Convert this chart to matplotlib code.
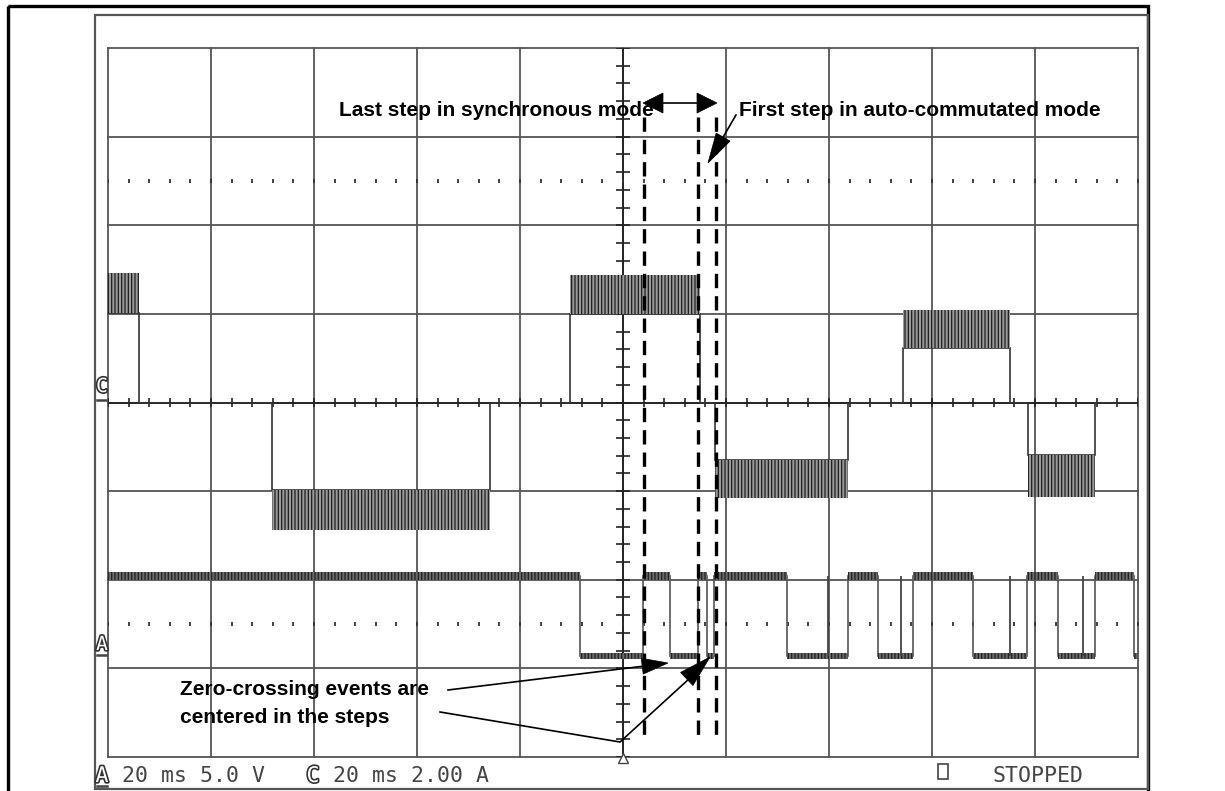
import numpy as np
import matplotlib
matplotlib.use("Agg")
import matplotlib.pyplot as plt
from matplotlib.patches import Polygon, Rectangle
import matplotlib.patheffects as pe

plt.rcParams['hatch.linewidth'] = 0.9

# ---------------- data (screen divisions: x 0..10, y 0..8) ----------------
# Channel C (phase current, 2.00 A/div, ground at 4 div)
c_edges = [0.0, 0.30, 1.59, 3.71, 4.49, 5.75, 5.89, 7.18, 7.72, 8.76, 8.93, 9.58, 10.0]
c_inner = [5.01, 4.0, 3.01, 4.0, 5.00, 4.0, 3.35, 4.0, 4.61, 4.0, 3.41, 4.0]
c_outer = [5.46, 4.0, 2.56, 4.0, 5.44, 4.0, 2.92, 4.0, 5.04, 4.0, 2.93, 4.0]

# Channel A (BEMF comparator output, 5.0 V/div, ground at 1 div)
a_edges = [0.0, 4.583, 5.194, 5.456, 5.728, 5.816, 5.883, 6.592, 7.184, 7.476,
           7.816, 8.398, 8.922, 9.223, 9.583, 9.961, 10.0]
a_state = [1, 0, 1, 0, 1, 0, 1, 0, 1, 0, 1, 0, 1, 0, 1, 0]
a_high, a_low = 2.04, 1.14
a_high_band = (2.00, 2.09)
a_low_band = (1.11, 1.17)
a_spikes = [6.990, 7.699, 8.757, 9.466]

# dashed markers (step boundaries)
dash_x = [5.204, 5.728, 5.903]

# status line texts
status_a = "20 ms 5.0 V"
status_c = "20 ms 2.00 A"
status_run = "STOPPED"

# ---------------- figure ----------------
W, H = 1225, 791
fig = plt.figure(figsize=(W / 100, H / 100), dpi=100)
fig.patch.set_facecolor("white")

GX0, GX1, GY0, GY1 = 108, 1138, 48, 757
ax = fig.add_axes([GX0 / W, 1 - GY1 / H, (GX1 - GX0) / W, (GY1 - GY0) / H])
ax.set_xlim(0, 10)
ax.set_ylim(0, 8)
ax.axis("off")

ov = fig.add_axes([0, 0, 1, 1], zorder=5)
ov.set_xlim(0, W)
ov.set_ylim(H, 0)
ov.axis("off")

# graticule
for i in range(11):
    ax.axvline(i, color="#555555", lw=1.3, clip_on=False, zorder=1)
for j in range(9):
    ax.axhline(j, color="#555555", lw=1.3, clip_on=False, zorder=1)
ax.axvline(5, color="#222222", lw=1.3, zorder=1.1)
ax.axhline(4, color="#222222", lw=1.3, zorder=1.1)
minor = np.arange(0, 10.001, 0.2)
ax.vlines(minor, 4 - 0.056, 4 + 0.056, color="#222222", lw=1.2, zorder=1.1)
minor_y = np.arange(0, 8.001, 0.2)
ax.hlines(minor_y, 5 - 0.068, 5 + 0.068, color="#222222", lw=1.2, zorder=1.1)
# dotted reference rows
ax.plot(minor, np.full_like(minor, 6.5), ls="none", marker="|", ms=3, mew=1.3,
        color="#333333", zorder=1.2)
ax.plot(minor, np.full_like(minor, 1.5), ls="none", marker="|", ms=3, mew=1.3,
        color="#333333", zorder=1.2)
ax.plot([5], [-0.015], marker="^", ms=7, mfc="white", mec="#444444", mew=1.0,
        clip_on=False, zorder=3)

# channel C
ax.stairs(c_inner, c_edges, baseline=None, color="#333333", lw=1.2, zorder=2)
for k in range(len(c_inner)):
    if c_inner[k] != c_outer[k]:
        ax.fill_between([c_edges[k], c_edges[k + 1]], c_inner[k], c_outer[k],
                        facecolor="#9a9a9a", edgecolor="#1e1e1e", hatch="|||||",
                        lw=0, zorder=2)

# channel A
a_vals = [a_high if s else a_low for s in a_state]
ax.stairs(a_vals, a_edges, baseline=None, color="#555555", lw=1.2, zorder=2)
for k, s in enumerate(a_state):
    lo, hi = a_high_band if s else a_low_band
    ax.fill_between([a_edges[k], a_edges[k + 1]], lo, hi, facecolor="#6a6a6a",
                    edgecolor="#222222", hatch="|||||", lw=0, zorder=2)
ax.vlines(a_spikes, a_low, a_high, color="#444444", lw=1.3, zorder=2)

# dashed lines
for x in dash_x:
    ax.plot([x, x], [7.22, 0.17], color="black", lw=2.4, dashes=(4.3, 2.4),
            zorder=4, solid_capstyle="butt")

# ---------------- overlay: frames, annotations, status ----------------
ov.add_patch(Rectangle((8, 6), 1140, 800, fill=False, ec="black", lw=2.4))
ov.add_patch(Rectangle((95, 15), 1053, 774, fill=False, ec="#555555", lw=1.6))


def arrow_head(tip, frm, length, half):
    tip = np.asarray(tip, float)
    frm = np.asarray(frm, float)
    d = tip - frm
    d /= np.hypot(*d)
    n = np.array([-d[1], d[0]])
    base = tip - d * length
    ov.add_patch(Polygon([tip, base + n * half, base - n * half], closed=True,
                         fc="black", ec="black", lw=0.5, zorder=6))


bold = dict(family=["Liberation Sans", "DejaVu Sans"], fontsize=15,
            fontweight="bold", color="black", zorder=7)

ov.text(339, 116, "Last step in synchronous mode", ha="left", va="baseline", **bold)
ov.text(739, 116, "First step in auto-commutated mode", ha="left", va="baseline", **bold)
ov.text(180, 695, "Zero-crossing events are", ha="left", va="baseline", **bold)
ov.text(180, 723, "centered in the steps", ha="left", va="baseline", **bold)

# double arrow
ov.plot([660, 700], [103, 103], color="black", lw=1.2, zorder=6)
arrow_head((643, 103), (700, 103), 20, 10)
arrow_head((717, 103), (660, 103), 20, 10)
# first-step arrow
ov.plot([736, 715], [115, 151], color="black", lw=1.2, zorder=6)
arrow_head((708, 163), (736, 115), 30, 8)
# zero-crossing arrows
ov.plot([448, 645], [690, 666], color="black", lw=1.2, zorder=6)
arrow_head((668, 663), (448, 690), 26, 8)
ov.plot([440, 620, 690], [712, 742, 678], color="black", lw=1.2, zorder=6)
arrow_head((710, 657), (620, 742), 32, 9)

# channel ground markers
hollow = [pe.withStroke(linewidth=2.4, foreground="#333333")]
mono = dict(family=["DejaVu Sans Mono"], color="white", path_effects=hollow)
ov.text(102, 392, "C", ha="center", va="baseline", fontsize=14, **mono)
ov.plot([97, 106], [400, 400], color="#444444", lw=1.8)
ov.text(102, 650, "A", ha="center", va="baseline", fontsize=14, **mono)
ov.plot([97, 106], [655, 655], color="#444444", lw=1.8)

# status line
st = dict(family=["DejaVu Sans Mono"], fontsize=15.5, color="#444444")
ov.text(102, 782, "A", ha="center", va="baseline", fontsize=15.5, **mono)
ov.plot([97, 107], [786, 786], color="#444444", lw=1.8)
ov.text(122, 782, status_a, ha="left", va="baseline", **st)
ov.text(313, 782, "C", ha="center", va="baseline", fontsize=15.5, **mono)
ov.text(333, 782, status_c, ha="left", va="baseline", **st)
ov.add_patch(Rectangle((938, 764), 10, 15, fill=False, ec="#444444", lw=1.2))
ov.text(992, 782, status_run, ha="left", va="baseline", **st)

fig.savefig("out.png", dpi=100, facecolor="white")
